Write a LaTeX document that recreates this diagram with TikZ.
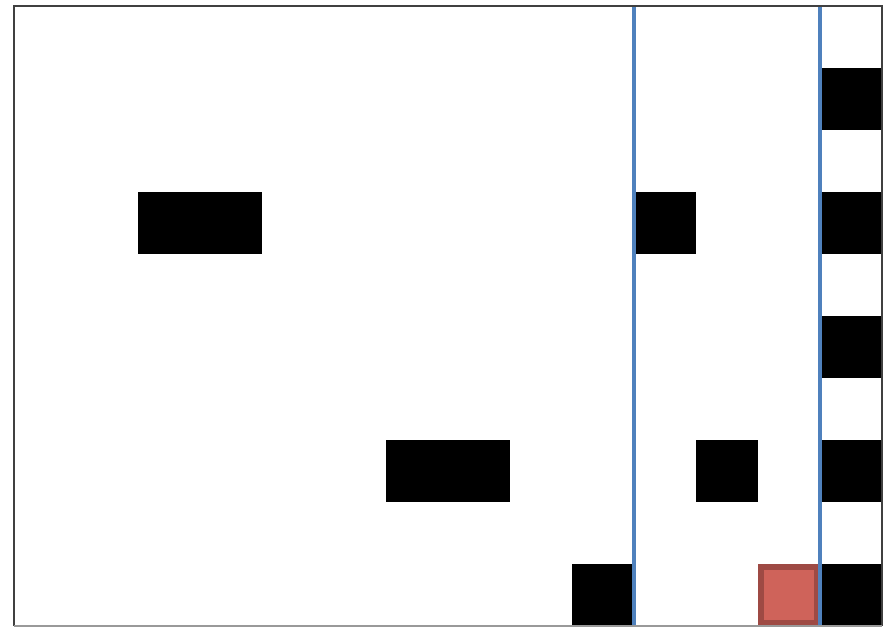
\documentclass[tikz,border=0pt]{standalone}
\usetikzlibrary{positioning}
\definecolor{gridblue}{HTML}{4F81BD}
\definecolor{goalfill}{HTML}{CF635A}
\definecolor{goaledge}{HTML}{9E4A44}
\tikzset{
  cell/.style={draw=none, fill=black, minimum height=0.62cm, inner sep=0pt, outer sep=0pt, anchor=north west},
  goal/.style={draw=goaledge, fill=goalfill, line width=1.7pt, minimum size=0.56cm, inner sep=0pt, outer sep=0pt}
}
\begin{document}
\begin{tikzpicture}[x=0.62cm, y=-0.62cm]
            \useasboundingbox (-0.226,-0.097) rectangle (14.161,10.0);
            \fill[white] (-0.226,-0.097) rectangle (14.161,10.0);
            % obstacles
            \node[cell, minimum width=1.24cm] (wallA) at (2,3) {};
            \node[cell, minimum width=1.24cm] (wallB) at (6,7) {};
            \node[cell, minimum width=0.62cm] (wallC) at (9,9) {};
            \node[cell, minimum width=0.62cm] (wallD) at (10,3) {};
            \node[cell, minimum width=0.62cm] (wallE) at (11,7) {};
            \foreach \r in {1,3,5,7,9}
                \node[cell, minimum width=0.62cm] (edge\r) at (13,\r) {};
            % target
            \node[goal] (target) at (12.5,9.5) {};
            % dividers
            \draw[gridblue, line width=0.9pt] (10,0) -- (10,10);
            \draw[gridblue, line width=0.9pt] (13,0) -- (13,10);
            % frame
            \draw[black!75, line width=0.6pt] (0,10) -- (0,0) -- (14,0) -- (14,10);
            \draw[black!40, line width=0.6pt] (0,10) -- (14,10);
        \end{tikzpicture}
\end{document}
